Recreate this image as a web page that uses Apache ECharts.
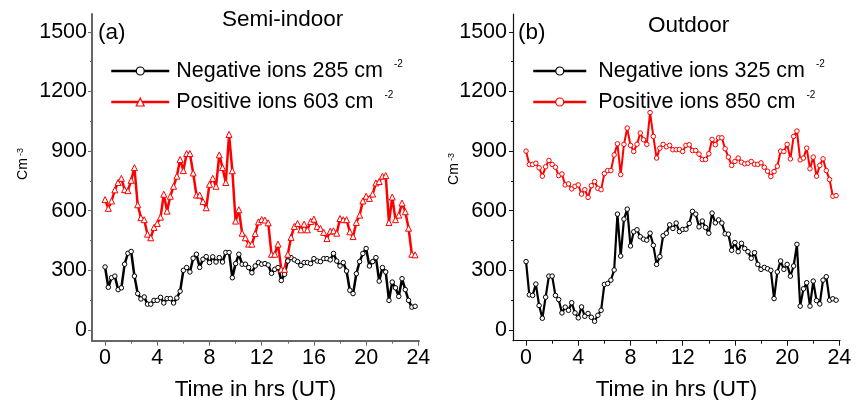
<!DOCTYPE html>
<html>
<head>
<meta charset="utf-8">
<script src="https://cdn.jsdelivr.net/npm/echarts@6/dist/echarts.min.js"></script>
<style>
  html, body { margin: 0; padding: 0; background: #fff; }
  #chart { width: 857px; height: 400px; }
</style>
</head>
<body>
<div id="chart"></div>
<script>
// Sampling times (hours UT, 15-minute steps)
const hours = [0,0.25,0.5,0.75,1,1.25,1.5,1.75,2,2.25,2.5,2.75,3,3.25,3.5,3.75,4,4.25,4.5,4.75,5,5.25,5.5,5.75,6,6.25,6.5,6.75,7,7.25,7.5,7.75,8,8.25,8.5,8.75,9,9.25,9.5,9.75,10,10.25,10.5,10.75,11,11.25,11.5,11.75,12,12.25,12.5,12.75,13,13.25,13.5,13.75,14,14.25,14.5,14.75,15,15.25,15.5,15.75,16,16.25,16.5,16.75,17,17.25,17.5,17.75,18,18.25,18.5,18.75,19,19.25,19.5,19.75,20,20.25,20.5,20.75,21,21.25,21.5,21.75,22,22.25,22.5,22.75,23,23.25,23.5,23.75];

// (a) Semi-indoor ion concentrations
const semiNeg = [317,215,263,271,203,212,331,386,395,271,183,156,166,130,130,149,149,164,136,158,158,136,161,195,300,314,292,361,381,315,356,369,339,368,342,364,342,390,390,263,334,381,331,331,314,288,322,339,331,334,327,285,305,314,249,280,347,364,353,344,325,339,339,334,359,347,344,359,359,353,385,347,322,339,297,200,183,283,344,385,410,322,344,364,246,314,292,149,241,212,169,258,203,149,115,119];
const semiPos = [656,612,649,705,742,763,706,701,753,817,630,565,555,482,464,516,536,568,683,598,673,723,774,858,802,888,888,790,679,679,646,615,733,763,723,881,817,742,984,801,548,605,487,464,432,432,485,544,556,553,539,381,381,432,305,305,381,466,521,536,504,533,504,546,558,521,511,491,460,497,499,487,561,555,555,494,470,541,578,649,673,662,684,740,747,774,777,541,669,555,578,639,595,512,381,378];

// (b) Outdoor ion concentrations
const outNeg = [344,177,174,231,123,59,165,271,271,174,153,86,115,99,137,86,61,116,69,83,64,44,74,99,229,234,251,302,583,372,558,608,423,494,504,469,457,452,487,426,330,369,474,487,529,511,538,495,506,507,536,597,583,519,548,516,487,588,539,554,538,484,482,401,440,394,436,410,394,361,389,330,305,315,308,300,158,292,347,305,330,271,322,431,120,207,238,120,246,148,131,251,268,150,157,150];
const outPos = [900,833,833,839,816,774,821,853,833,819,777,785,730,735,710,723,730,684,706,667,726,747,713,706,787,802,802,881,937,782,934,1016,929,898,935,991,957,934,1094,974,865,915,934,922,929,907,907,908,898,929,932,903,903,885,858,858,887,959,932,967,967,912,870,828,848,865,844,836,839,848,834,833,841,819,799,772,797,824,900,898,934,861,974,1001,856,865,915,811,870,774,828,861,802,757,673,676];

// Axis tick labels
const xTickValues = [0,4,8,12,16,20,24];
const xMinorValues = [2,6,10,14,18,22];
const yTickValues = [0,300,600,900,1200,1500];
const yMinorValues = [150,450,750,1050,1350];

const FONT = '"Liberation Sans", Arial, sans-serif';
const X_MIN = -1, X_MAX = 24.05, Y_MIN = -54, Y_MAX = 1590;

const pair = vals => hours.map((h, i) => [h, vals[i]]);
const plain = v => String(v);

function xMajor(grid, color, width) {
  return {
    type: 'value', gridIndex: grid, position: 'bottom', min: X_MIN, max: X_MAX,
    axisLine: { show: true, onZero: false, lineStyle: { color: color, width: width } },
    axisTick: { show: true, customValues: xTickValues, length: 5, lineStyle: { color: color, width: 1 } },
    axisLabel: { customValues: xTickValues, formatter: plain, margin: 6, fontSize: 21.5, fontFamily: FONT, color: '#000' },
    splitLine: { show: false },
    name: 'Time in hrs (UT)', nameLocation: 'middle', nameGap: 38,
    nameTextStyle: { fontSize: 22.5, fontFamily: FONT, color: '#000' }
  };
}
function xMinor(grid, color) {
  return {
    type: 'value', gridIndex: grid, position: 'bottom', min: X_MIN, max: X_MAX,
    axisLine: { show: false, onZero: false },
    axisTick: { show: true, customValues: xMinorValues, length: 3, lineStyle: { color: color, width: 1 } },
    axisLabel: { show: false }, splitLine: { show: false }
  };
}
function yMajor(grid, color, width, margin) {
  return {
    type: 'value', gridIndex: grid, position: 'left', min: Y_MIN, max: Y_MAX,
    axisLine: { show: true, onZero: false, lineStyle: { color: color, width: width } },
    axisTick: { show: true, customValues: yTickValues, length: 4, lineStyle: { color: color, width: 1 } },
    axisLabel: { customValues: yTickValues, formatter: plain, margin: margin, fontSize: 21.5, fontFamily: FONT, color: '#000' },
    splitLine: { show: false }
  };
}
function yMinor(grid, color) {
  return {
    type: 'value', gridIndex: grid, position: 'left', min: Y_MIN, max: Y_MAX,
    axisLine: { show: false, onZero: false },
    axisTick: { show: true, customValues: yMinorValues, length: 2, lineStyle: { color: color, width: 1 } },
    axisLabel: { show: false }, splitLine: { show: false }
  };
}

function lineSeries(name, vals, xi, yi, color, width, symbol, size) {
  return {
    name: name, type: 'line', xAxisIndex: xi, yAxisIndex: yi,
    data: pair(vals), symbol: symbol, symbolSize: size, showSymbol: true,
    lineStyle: { color: color, width: width },
    itemStyle: { color: '#fff', borderColor: color, borderWidth: 1 },
    emphasis: { disabled: true }, animation: false
  };
}

const names = {
  aNeg: 'Negative ions 285 cm',
  aPos: 'Positive ions 603 cm',
  bNeg: 'Negative ions 325 cm',
  bPos: 'Positive ions 850 cm'
};

function legendItem(name, color) {
  return { name: name, itemStyle: { color: '#fff', borderColor: color, borderWidth: 1.2 }, lineStyle: { color: color, width: 2.5 } };
}

const legendText = {
  fontSize: 21.5, fontFamily: FONT, color: '#000', lineHeight: 24,
  rich: { sup: { fontSize: 10, fontFamily: FONT, color: '#000', verticalAlign: 'top', padding: [0, 0, 0, 5] } }
};

const chart = echarts.init(document.getElementById('chart'), null, { renderer: 'canvas' });
chart.setOption({
  backgroundColor: '#fff',
  animation: false,
  grid: [
    { left: 92, top: 14, width: 327, bottom: 59.3, containLabel: false, outerBoundsMode: 'none' },
    { left: 513, top: 14, width: 327, bottom: 59.3, containLabel: false, outerBoundsMode: 'none' }
  ],
  xAxis: [xMajor(0, '#666', 2), xMinor(0, '#666'), xMajor(1, '#111', 1.2), xMinor(1, '#111')],
  yAxis: [yMajor(0, '#666', 2, 5), yMinor(0, '#666'), yMajor(1, '#111', 1.2, 6), yMinor(1, '#111')],
  legend: [
    {
      left: 105, top: 54, orient: 'vertical', itemWidth: 58, itemHeight: 10, itemGap: 7,
      data: [legendItem(names.aNeg, '#000'), legendItem(names.aPos, '#f00')],
      formatter: n => n + ' {sup|-2}',
      textStyle: Object.assign({}, legendText, { padding: [0, 0, 0, 2] }), selectedMode: false
    },
    {
      left: 527, top: 54, orient: 'vertical', itemWidth: 53, itemHeight: 10, itemGap: 7,
      data: [legendItem(names.bNeg, '#000'), legendItem(names.bPos, '#f00')],
      formatter: n => n + ' {sup|-2}',
      textStyle: Object.assign({}, legendText, { padding: [0, 0, 0, 7] }), selectedMode: false
    }
  ],
  graphic: [
    { type: 'text', left: 222, top: 8, style: { text: 'Semi-indoor', font: '22.5px ' + FONT, fill: '#000' } },
    { type: 'text', left: 98, top: 21, style: { text: '(a)', font: '22.5px ' + FONT, fill: '#000' } },
    { type: 'text', left: 648, top: 14, style: { text: 'Outdoor', font: '22.5px ' + FONT, fill: '#000' } },
    { type: 'text', left: 518, top: 21, style: { text: '(b)', font: '22.5px ' + FONT, fill: '#000' } },
    { type: 'text', x: 23, y: 164, rotation: Math.PI / 2,
      style: { text: 'Cm{sup|-3}', font: '14px ' + FONT, fill: '#000', align: 'center', verticalAlign: 'middle',
        rich: { sup: { fontSize: 9, fontFamily: FONT, fill: '#000', verticalAlign: 'top', padding: [0, 0, 0, 2] } } } },
    { type: 'text', x: 454, y: 169, rotation: Math.PI / 2,
      style: { text: 'Cm{sup|-3}', font: '14px ' + FONT, fill: '#000', align: 'center', verticalAlign: 'middle',
        rich: { sup: { fontSize: 9, fontFamily: FONT, fill: '#000', verticalAlign: 'top', padding: [0, 0, 0, 2] } } } }
  ],
  series: [
    lineSeries(names.aNeg, semiNeg, 0, 0, '#000', 2.5, 'circle', 4.5),
    lineSeries(names.aPos, semiPos, 0, 0, '#f00', 2.5, 'triangle', 6),
    lineSeries(names.bNeg, outNeg, 2, 2, '#000', 2.2, 'circle', 4.5),
    lineSeries(names.bPos, outPos, 2, 2, '#f00', 2, 'circle', 4.5)
  ]
});
</script>
</body>
</html>
